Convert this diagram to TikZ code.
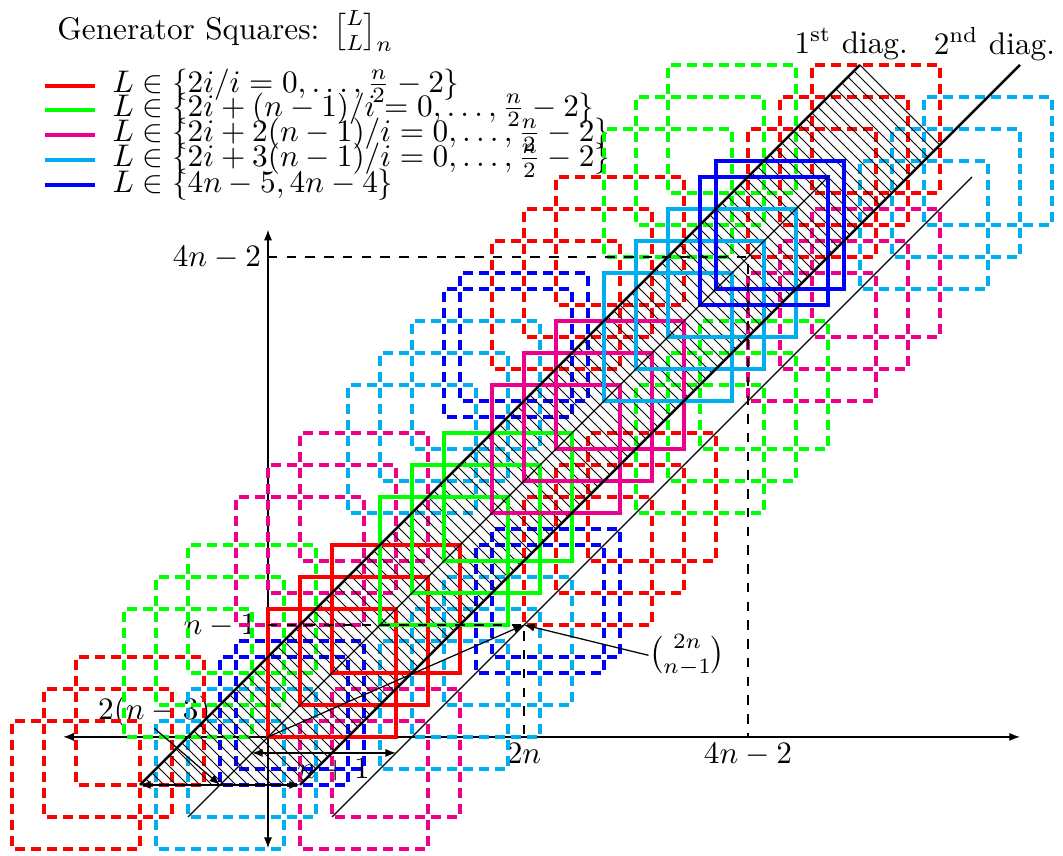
\documentclass[tikz,border=0pt]{standalone}
\usepackage{amsmath}
\usetikzlibrary{arrows.meta}
\definecolor{sqred}{RGB}{255,0,0}
\definecolor{sqgreen}{RGB}{0,255,0}
\definecolor{sqmagenta}{RGB}{236,0,140}
\definecolor{sqcyan}{RGB}{0,174,239}
\definecolor{sqblue}{RGB}{0,0,255}
\begin{document}
\begin{tikzpicture}[x=0.18cm,y=0.18cm,>={Latex[length=3.4pt,width=2.6pt]},
  gensq/.style={line width=1.3pt},
  copysq/.style={line width=1.3pt,dash pattern=on 3.2pt off 1.92pt,dash phase=4.16pt},
  guide/.style={line width=0.4pt,dashed},
  diagline/.style={line width=0.8pt},
  thinline/.style={line width=0.4pt},
  hatchline/.style={line width=0.3pt},
  lbl/.style={inner sep=0pt}]
\useasboundingbox (-16.75,-7.44) rectangle (49.69,46.06);
\coordinate (o) at (0,0);
\coordinate (pt) at (16,7);
\coordinate (bandL) at (-8,-3);
\coordinate (bandR) at (2,-3);
\coordinate (bandM) at (-3,-3);
\draw[<->,thinline] (-12.8,0) -- (47,0);
\draw[<->,thinline] (0,-6.95) -- (0,31.7);
\node[lbl,anchor=east] (ytop) at (-0.4,29.95) {$4n-2$};
\node[lbl,anchor=east] (ymid) at (-0.7,6.95) {$n-1$};
\node[lbl,anchor=north] (xmid) at (16,-0.35) {$2n$};
\node[lbl,anchor=north] (xtop) at (30,-0.35) {$4n-2$};
\node[lbl] (band) at (-7.1,1.55) {$2(n-3)$};
\node[lbl] (gap) at (4.1,-2.05) {$n+1$};
\node[lbl] (bino) at (26.2,5.1) {$\binom{2n}{n-1}$};
\node[lbl] (diagA) at (36.45,43.3) {1\textsuperscript{st} diag.};
\node[lbl] (diagB) at (45.4,43.3) {2\textsuperscript{nd} diag.};
\node[lbl,anchor=west] (title) at (-13.2,44.1) {Generator Squares: ${\genfrac{[}{]}{0pt}{1}{L}{L}}_n$};
\draw[sqred,line width=1.3pt] (-13.94,40.69) -- (-10.81,40.69);
\node[lbl,anchor=west] (keyred) at (-9.75,40.69) {$L\in\{2i/i=0,\ldots,\frac{n}{2}-2\}$};
\draw[sqgreen,line width=1.3pt] (-13.94,39.19) -- (-10.81,39.19);
\node[lbl,anchor=west] (keygreen) at (-9.75,39.19) {$L\in\{2i+(n-1)/i=0,\ldots,\frac{n}{2}-2\}$};
\draw[sqmagenta,line width=1.3pt] (-13.94,37.63) -- (-10.81,37.63);
\node[lbl,anchor=west] (keymagenta) at (-9.75,37.63) {$L\in\{2i+2(n-1)/i=0,\ldots,\frac{n}{2}-2\}$};
\draw[sqcyan,line width=1.3pt] (-13.94,36.06) -- (-10.81,36.06);
\node[lbl,anchor=west] (keycyan) at (-9.75,36.06) {$L\in\{2i+3(n-1)/i=0,\ldots,\frac{n}{2}-2\}$};
\draw[sqblue,line width=1.3pt] (-13.94,34.5) -- (-10.81,34.5);
\node[lbl,anchor=west] (keyblue) at (-9.75,34.5) {$L\in\{4n-5,4n-4\}$};
\foreach \a/\b in {-16/-7,-14/-5,-12/-3,16/7,18/9,20/11,14/23,16/25,18/27,30/30,32/32,34/34}
  \draw[copysq,sqred] (\a,\b) rectangle ++(8,8);
\foreach \a/\b in {-9/0,-7/2,-5/4,23/14,25/16,27/18,21/30,23/32,25/34}
  \draw[copysq,sqgreen] (\a,\b) rectangle ++(8,8);
\foreach \a/\b in {2/-7,4/-5,-2/7,0/9,2/11,30/21,32/23,34/25}
  \draw[copysq,sqmagenta] (\a,\b) rectangle ++(8,8);
\foreach \a/\b in {-7/-7,-5/-5,7/-2,9/0,11/2,5/14,7/16,9/18,37/28,39/30,41/32}
  \draw[copysq,sqcyan] (\a,\b) rectangle ++(8,8);
\foreach \a/\b in {-3/-3,-2/-2,13/4,14/5,11/20,12/21}
  \draw[copysq,sqblue] (\a,\b) rectangle ++(8,8);
\begin{scope}
\clip (bandL) -- (bandR) -- (42,37) -- (37,42) -- cycle;
\foreach \c in {79,78.25,...,-12}
  \draw[hatchline] ({\c/2-30},{\c/2+30}) -- ({\c/2+30},{\c/2-30});
\end{scope}
\draw[hatchline] (37,42) -- (42,37);
\foreach \L/\col in {0/sqred,2/sqred,4/sqred,7/sqgreen,9/sqgreen,11/sqgreen,14/sqmagenta,16/sqmagenta,18/sqmagenta,21/sqcyan,23/sqcyan,25/sqcyan,27/sqblue,28/sqblue}
  \draw[gensq,\col] (\L,\L) rectangle ++(8,8);
\draw[diagline] (bandL) -- (37,42);
\draw[diagline] (bandR) -- (47,42);
\draw[thinline] (-5,-5) -- (35,35);
\draw[thinline] (4,-5) -- (44,35);
\draw[guide] (0,30) -- (30,30) -- (30,0);
\draw[guide] (0,7) -- (pt) -- (16,0);
\draw[->,thinline] (o) -- (pt);
\draw[->,thinline] (bino.west) -- (pt);
\draw[<->,thinline] (bandL) -- (bandR);
\draw[->,thinline] (band.south) -- (bandM);
\draw[<->,thinline] (-1,-1) -- (8,-1);
\end{tikzpicture}
\end{document}
